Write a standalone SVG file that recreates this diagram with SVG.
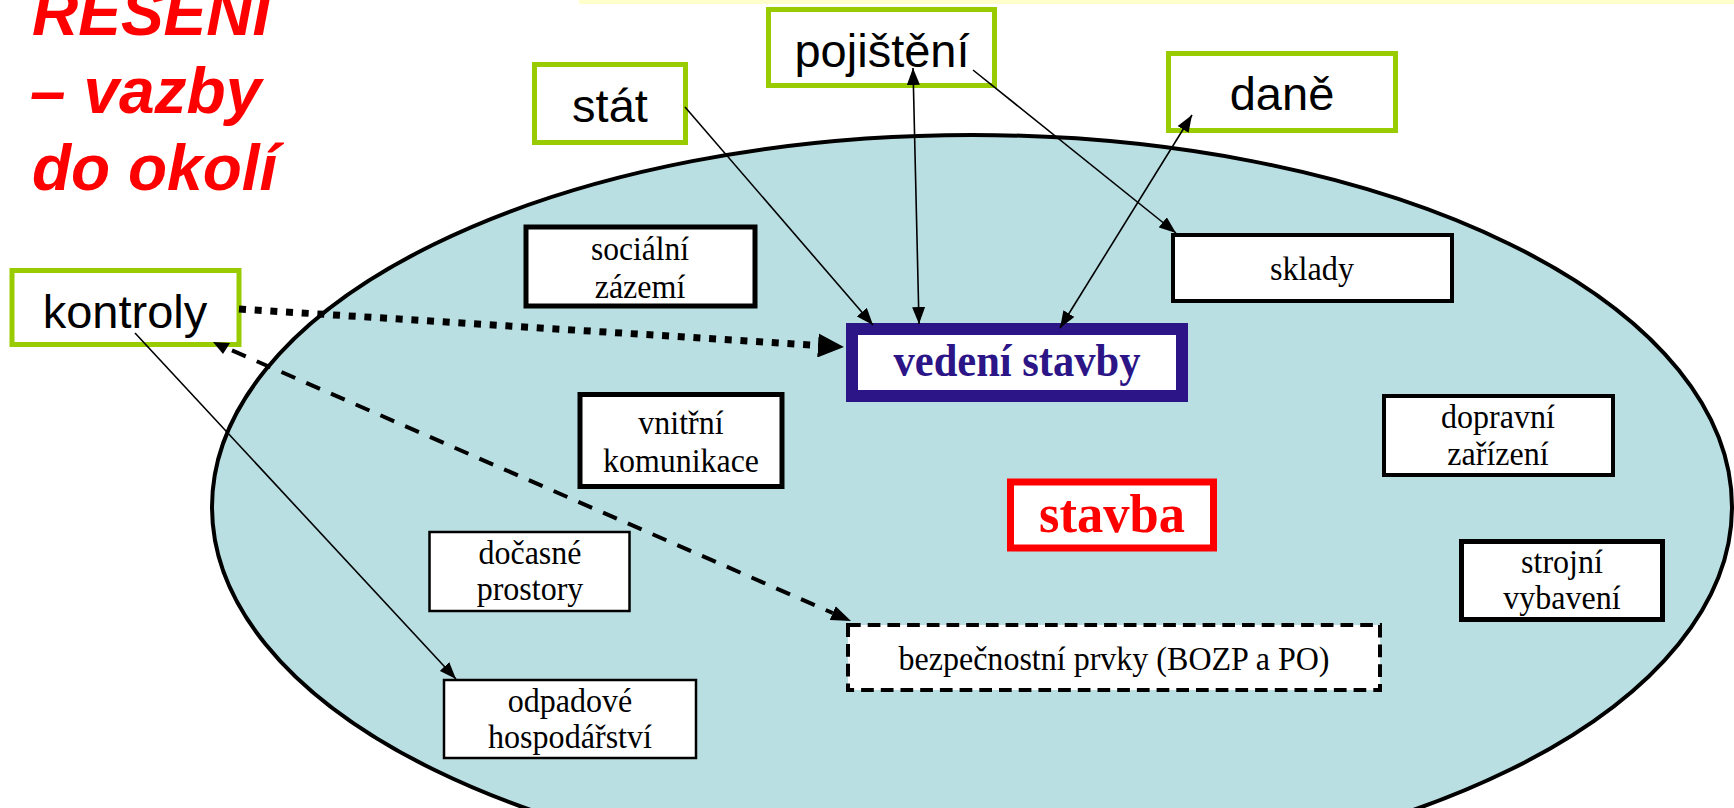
<svg xmlns="http://www.w3.org/2000/svg" width="1734" height="808" viewBox="0 0 1734 808">
  <style>
    .title { font-family: "Liberation Sans", Arial, sans-serif; font-size: 64px; font-weight: bold; font-style: italic; fill: #FF0000; }
    .outer rect { fill: #FFFFFF; stroke: #99CC00; stroke-width: 5; }
    .outer text { font-family: "Liberation Sans", Arial, sans-serif; font-size: 47px; fill: #000000; text-anchor: middle; }
    .inner rect { fill: #FFFFFF; stroke: #000000; }
    .inner text { font-family: "Liberation Serif", "Times New Roman", serif; font-size: 34.5px; fill: #000000; text-anchor: middle; }
    .thin { fill: none; stroke: #000000; stroke-width: 1.6; }
  </style>
  <defs>
    <marker id="arrow" markerUnits="userSpaceOnUse" markerWidth="17" markerHeight="13" refX="17" refY="6.5" orient="auto-start-reverse">
      <path d="M0,0 L17,6.5 L0,13 z" fill="#000000"/>
    </marker>
    <marker id="arrowBig" markerUnits="userSpaceOnUse" markerWidth="26" markerHeight="24" refX="0" refY="12" orient="auto">
      <path d="M0,0 L26,12 L0,24 z" fill="#000000"/>
    </marker>
    <marker id="arrowDash" markerUnits="userSpaceOnUse" markerWidth="20" markerHeight="15" refX="0" refY="7.5" orient="auto">
      <path d="M0,0 L20,7.5 L0,15 z" fill="#000000"/>
    </marker>
  </defs>

  <rect width="1734" height="808" fill="#FFFFFF"/>
  <!-- thin yellow strip along the top edge -->
  <rect x="579" y="0" width="1155" height="4" fill="#FFFFCC"/>

  <!-- heading -->
  <g id="heading">
    <text class="title" x="32" y="35">ŘEŠENÍ</text>
    <text class="title" x="30" y="113">– vazby</text>
    <text class="title" x="32" y="190">do okolí</text>
  </g>

  <!-- the construction site area -->
  <g id="site">
    <ellipse cx="972" cy="507" rx="760" ry="372" fill="#B9DFE3" stroke="#000000" stroke-width="4"/>
  </g>

  <!-- outside parties -->
  <g id="stat" class="outer">
    <rect x="534.5" y="64.5" width="151" height="78"/>
    <text x="610" y="122">stát</text>
  </g>
  <g id="pojisteni" class="outer">
    <rect x="768.5" y="9.5" width="226" height="76"/>
    <text x="882" y="67">pojištění</text>
  </g>
  <g id="dane" class="outer">
    <rect x="1168.5" y="53.5" width="227" height="77"/>
    <text x="1282" y="110">daně</text>
  </g>
  <g id="kontroly" class="outer">
    <rect x="12" y="270.5" width="227" height="74"/>
    <text x="125" y="328">kontroly</text>
  </g>

  <!-- parts of the site (labels set slightly narrow) -->
  <g id="socialni-zazemi" class="inner">
    <rect x="526" y="227" width="229" height="79" stroke-width="5"/>
    <text x="640" y="260" textLength="98" lengthAdjust="spacingAndGlyphs">sociální</text>
    <text x="640" y="298" textLength="90.6" lengthAdjust="spacingAndGlyphs">zázemí</text>
  </g>
  <g id="vnitrni-komunikace" class="inner">
    <rect x="580" y="394.5" width="202" height="92" stroke-width="5"/>
    <text x="681" y="434" textLength="85.3" lengthAdjust="spacingAndGlyphs">vnitřní</text>
    <text x="681" y="472" textLength="156" lengthAdjust="spacingAndGlyphs">komunikace</text>
  </g>
  <g id="docasne-prostory" class="inner">
    <rect x="429.5" y="532" width="200" height="79" stroke-width="2.5"/>
    <text x="530" y="564" textLength="103" lengthAdjust="spacingAndGlyphs">dočasné</text>
    <text x="530" y="600" textLength="106.7" lengthAdjust="spacingAndGlyphs">prostory</text>
  </g>
  <g id="odpadove-hospodarstvi" class="inner">
    <rect x="444" y="680" width="252" height="78" stroke-width="2.5"/>
    <text x="570" y="712" textLength="124.4" lengthAdjust="spacingAndGlyphs">odpadové</text>
    <text x="570" y="748" textLength="164" lengthAdjust="spacingAndGlyphs">hospodářství</text>
  </g>
  <g id="sklady" class="inner">
    <rect x="1173" y="235" width="279" height="66" stroke-width="4"/>
    <text x="1312" y="280" textLength="84" lengthAdjust="spacingAndGlyphs">sklady</text>
  </g>
  <g id="dopravni-zarizeni" class="inner">
    <rect x="1384" y="396" width="229" height="79" stroke-width="4"/>
    <text x="1498" y="428" textLength="113.8" lengthAdjust="spacingAndGlyphs">dopravní</text>
    <text x="1498" y="465" textLength="101.3" lengthAdjust="spacingAndGlyphs">zařízení</text>
  </g>
  <g id="strojni-vybaveni" class="inner">
    <rect x="1461.5" y="541.5" width="201" height="78" stroke-width="5"/>
    <text x="1562" y="573" textLength="81.8" lengthAdjust="spacingAndGlyphs">strojní</text>
    <text x="1562" y="609" textLength="117.3" lengthAdjust="spacingAndGlyphs">vybavení</text>
  </g>
  <g id="bezpecnostni-prvky" class="inner">
    <rect x="848" y="625" width="532" height="65" stroke-width="4" stroke-dasharray="12.7 7"/>
    <text x="1114" y="670" textLength="431" lengthAdjust="spacingAndGlyphs">bezpečnostní prvky (BOZP a PO)</text>
  </g>
  <g id="vedeni-stavby">
    <rect x="852" y="329" width="330" height="67" fill="#FFFFFF" stroke="#2B1587" stroke-width="12"/>
    <text x="1017" y="376" font-family="'Liberation Serif', 'Times New Roman', serif" font-size="46" font-weight="bold" fill="#2B1587" text-anchor="middle" textLength="247" lengthAdjust="spacingAndGlyphs">vedení stavby</text>
  </g>
  <g id="stavba">
    <rect x="1010.5" y="482" width="203" height="66" fill="#FFFFFF" stroke="#FF0000" stroke-width="7"/>
    <text x="1112" y="532" font-family="'Liberation Serif', 'Times New Roman', serif" font-size="55" font-weight="bold" fill="#FF0000" text-anchor="middle" textLength="146" lengthAdjust="spacingAndGlyphs">stavba</text>
  </g>

  <!-- connectors -->
  <g id="connectors">
    <line class="thin" x1="685" y1="107" x2="873" y2="325" marker-end="url(#arrow)"/>
    <line class="thin" x1="913" y1="68" x2="919" y2="324" marker-start="url(#arrow)" marker-end="url(#arrow)"/>
    <line class="thin" x1="973" y1="70" x2="1176" y2="233" marker-end="url(#arrow)"/>
    <line class="thin" x1="1192" y1="115" x2="1060" y2="328" marker-start="url(#arrow)" marker-end="url(#arrow)"/>
    <line class="thin" x1="135" y1="333" x2="456" y2="679" marker-end="url(#arrow)"/>
    <line x1="239" y1="309" x2="818" y2="345.4" fill="none" stroke="#000000" stroke-width="7" stroke-dasharray="7 8.7" marker-end="url(#arrowBig)"/>
    <line x1="232" y1="350.4" x2="832.7" y2="613" fill="none" stroke="#000000" stroke-width="4" stroke-dasharray="15 12" marker-end="url(#arrowDash)"/>
    <polygon points="213,342 230,343 223,354" fill="#000000"/>
  </g>
</svg>
